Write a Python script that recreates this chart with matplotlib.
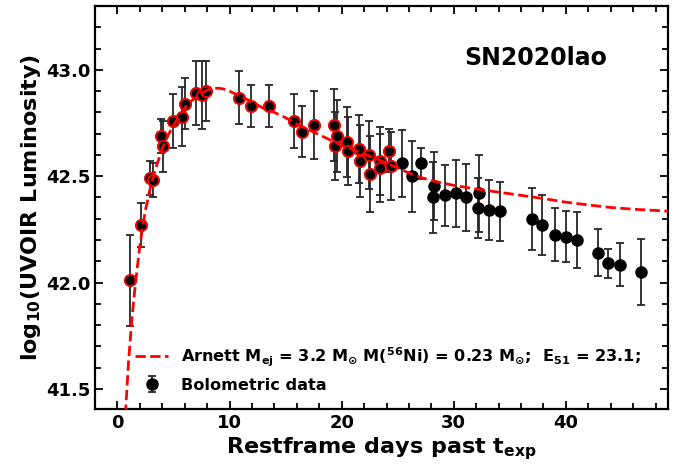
import numpy as np
import matplotlib
matplotlib.use("Agg")
import matplotlib.pyplot as plt
from matplotlib.ticker import MultipleLocator

plt.rcParams["font.family"] = ["DejaVu Sans"]
plt.rcParams["font.weight"] = "bold"
plt.rcParams["mathtext.default"] = "bf"

# bolometric light curve: days past explosion, log10 L, 1-sigma error
days = [1.14, 2.12, 2.92, 3.16, 3.88, 4.05, 5.00, 5.75, 6.04, 7.00, 7.59, 7.89,
        10.87, 11.91, 13.48, 15.78, 16.46, 17.56, 19.29, 19.44, 19.59, 20.48,
        20.54, 21.58, 21.62, 22.41, 22.55, 23.39, 23.42, 24.20, 24.41,
        25.39, 26.29, 27.09, 28.16, 28.28, 29.26, 30.21, 31.13, 32.18, 32.23,
        33.13, 34.10, 36.94, 37.89, 38.99, 39.97, 40.96, 42.86, 43.75, 44.82,
        46.73]
logL = [42.01, 42.27, 42.49, 42.48, 42.69, 42.64, 42.76, 42.78, 42.84, 42.89,
        42.88, 42.90, 42.87, 42.83, 42.83, 42.76, 42.71, 42.74, 42.74, 42.64,
        42.69, 42.66, 42.62, 42.63, 42.57, 42.60, 42.51, 42.57, 42.54, 42.62,
        42.55,
        42.56, 42.50, 42.56, 42.40, 42.455, 42.41, 42.42, 42.40, 42.35, 42.42,
        42.34, 42.335, 42.30, 42.27, 42.225, 42.215, 42.20, 42.14, 42.09,
        42.085, 42.05]
logL_err = [0.215, 0.105, 0.08, 0.08, 0.08, 0.12, 0.125, 0.14, 0.12, 0.15,
            0.16, 0.14, 0.125, 0.10, 0.10, 0.125, 0.12, 0.16, 0.17, 0.16,
            0.17, 0.165, 0.16, 0.16, 0.17, 0.16, 0.18, 0.16, 0.16, 0.10,
            0.16,
            0.157, 0.166, 0.075, 0.165, 0.16, 0.145, 0.157, 0.157, 0.14, 0.18,
            0.14, 0.14, 0.146, 0.14, 0.125, 0.12, 0.13, 0.11, 0.068, 0.10,
            0.156]
n_fit = 31  # first n_fit points were used in the Arnett fit

# Arnett model light curve
model_days = [0.6, 0.75, 1.0, 1.25, 1.5, 1.75, 2.0, 2.25, 2.5, 2.75, 3.0, 3.5,
              4.0, 4.5, 5.0, 5.5, 6.0, 6.5, 7.0, 7.5, 8.0, 8.5, 9.0, 9.5,
              10, 11, 12, 13, 14, 15, 16, 17, 18, 19, 20, 21, 22, 23, 24, 25,
              26, 27, 28, 29, 30, 32, 34, 36, 38, 40, 42, 44, 46, 48, 49.5]
model_logL = [41.24, 41.41, 41.63, 41.80, 41.94, 42.06, 42.17, 42.26, 42.34,
              42.40, 42.46, 42.55, 42.63, 42.69, 42.74, 42.78, 42.82, 42.85,
              42.87, 42.89, 42.905, 42.912, 42.914, 42.91, 42.90, 42.875,
              42.85, 42.82, 42.80, 42.775, 42.745, 42.72, 42.695, 42.67,
              42.645, 42.625, 42.605, 42.585, 42.56, 42.54, 42.515, 42.495,
              42.48, 42.468, 42.457, 42.44, 42.425, 42.41, 42.395, 42.378,
              42.365, 42.353, 42.345, 42.339, 42.334]

model_label = (r"Arnett M$_{ej}$ = 3.2 M$_{\odot}$ M($^{56}$Ni) = 0.23 M$_{\odot}$;"
               r"  E$_{51}$ = 23.1;")

fig, ax = plt.subplots(figsize=(6.83, 4.66), dpi=100)
fig.subplots_adjust(left=0.139, right=0.978, bottom=0.122, top=0.987)

ax.errorbar(days, logL, yerr=logL_err, fmt="o", color="k", ecolor="0.15",
            ms=8, mec="k", elinewidth=1.3, capsize=3, capthick=1.3,
            label="Bolometric data", zorder=2)
ax.plot(days[:n_fit], logL[:n_fit], "o", ms=8, mfc="k", mec="red",
        mew=1.3, zorder=3)
ax.plot(model_days, model_logL, "--", color="red", lw=2.0, label=model_label,
        zorder=4)

ax.text(0.77, 0.872, "SN2020lao", transform=ax.transAxes, ha="center",
        va="center", fontsize=17, fontweight="bold")

ax.set_xlim(-2.0, 49.1)
ax.set_ylim(41.405, 43.30)
ax.xaxis.set_major_locator(MultipleLocator(10))
ax.xaxis.set_minor_locator(MultipleLocator(2))
ax.yaxis.set_major_locator(MultipleLocator(0.5))
ax.yaxis.set_minor_locator(MultipleLocator(0.1))
ax.tick_params(which="both", direction="in", top=True, right=True,
               labelsize=13, width=1.3)
ax.tick_params(which="major", length=6)
ax.tick_params(which="minor", length=4)
for s in ax.spines.values():
    s.set_linewidth(1.6)

ax.set_xlabel(r"Restframe days past t$_{exp}$", fontsize=16, fontweight="bold",
              labelpad=2)
ax.set_ylabel(r"log$_{10}$(UVOIR Luminosity)", fontsize=16, fontweight="bold",
              labelpad=2)

handles, labels = ax.get_legend_handles_labels()
order = [labels.index(model_label), labels.index("Bolometric data")]
ax.legend([handles[i] for i in order], [labels[i] for i in order],
          loc="lower right", bbox_to_anchor=(0.977, 0.005), frameon=False,
          fontsize=11.6, labelspacing=0.55)

fig.savefig("out.png", dpi=100)
